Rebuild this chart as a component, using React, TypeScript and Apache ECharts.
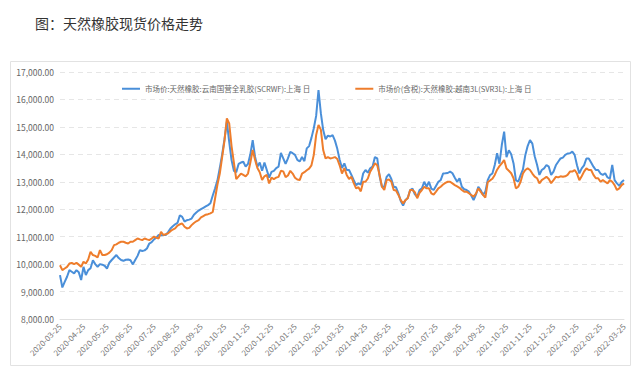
import React, { useEffect, useRef } from "react";
import * as echarts from "echarts";

const chartTitle = "图：天然橡胶现货价格走势";
const seriesNames = [
  "市场价:天然橡胶:云南国营全乳胶(SCRWF):上海 日",
  "市场价(含税):天然橡胶:越南3L(SVR3L):上海 日",
];

const monthLabels = [
  "2020-03-25", "2020-04-25", "2020-05-25", "2020-06-25", "2020-07-25",
  "2020-08-25", "2020-09-25", "2020-10-25", "2020-11-25", "2020-12-25",
  "2021-01-25", "2021-02-25", "2021-03-25", "2021-04-25", "2021-05-25",
  "2021-06-25", "2021-07-25", "2021-08-25", "2021-09-25", "2021-10-25",
  "2021-11-25", "2021-12-25", "2022-01-25", "2022-02-25", "2022-03-25",
];

const scrwf = [
  9600, 9150, 9350, 9540, 9780, 9720, 9660, 9780, 9700, 9420,
  9900, 9600, 9780, 9850, 10140, 10000, 9900, 10000, 9980, 9940,
  9840, 10050, 10150, 10240, 10330, 10220, 10150, 10120, 10160, 10170,
  10140, 9990, 10150, 10300, 10510, 10480, 10500, 10570, 10750, 10800,
  10900, 10960, 11060, 11050, 11060, 11060, 11170, 11300, 11380, 11450,
  11500, 11780, 11720, 11550, 11600, 11620, 11660, 11800, 11880, 11950,
  12000,
  12050, 12100, 12150, 12220, 12500, 12760, 13050, 13500, 14000,
  14550, 15190, 14450, 13790, 13400, 13350, 13650, 13700, 13730, 13550,
  13650, 14000, 14520, 13913, 13550, 13700, 13400, 13700, 13430, 13150,
  13360, 13400, 13500, 13550, 14050, 13850, 13650, 13850, 14090, 14040,
  13980, 13800, 13740, 13900, 13750, 14217, 14300, 14600, 14950, 15400,
  16344, 15500, 14885, 14550, 14680, 14650, 14700, 14500, 14200, 13800,
  13500,
  13670, 13430, 13430, 13250, 13060, 12880, 12940, 12900, 13300,
  13430, 13330, 13490, 13550, 13900, 13850, 13200, 12820, 12820, 13180,
  13280, 13100, 12820, 12800, 12580, 12300, 12130, 12330, 12420, 12700,
  12750, 12540, 12450, 12700, 12760, 13000, 12820, 13000, 12750, 12700,
  12850, 13000, 13060, 13300, 13307, 13320, 13370, 13310, 13150, 13000,
  13125, 12820, 12730, 12700, 12640, 12500, 12335, 12530, 12820, 12700,
  12520,
  12640, 13060, 13240, 13300, 13610, 14040, 13660, 14340, 14826,
  13900, 14150, 14000, 13670, 13060, 13000, 13240, 13450, 13970, 14300,
  14522, 14390, 13930, 13620, 13250, 13430, 13490, 13610, 13550, 13250,
  13370, 13600, 13730, 13850, 13880, 13980, 14030, 14040, 14097, 13980,
  13600, 13307, 13490, 13600, 13850, 13850, 13700, 13550, 13430, 13430,
  13300, 13250, 13310, 13160, 13120, 13611, 13060, 12940, 12850, 12990,
  13064,
];

const svr3l = [
  9960, 9780, 9840, 9900, 10020, 10045, 10000, 10045, 9980, 9900,
  10085, 10020, 10170, 10450, 10330, 10300, 10240, 10510, 10330, 10330,
  10360, 10420, 10510, 10690, 10720, 10780, 10815, 10815, 10780, 10750,
  10815, 10815, 10875, 10935, 10900, 10875, 10935, 10900, 10875, 10935,
  11000, 10960, 10935, 11180, 11060, 11090, 11120, 11200, 11260, 11300,
  11400, 11450, 11480, 11360, 11300, 11320, 11420, 11500, 11560, 11600,
  11700,
  11750, 11800, 11820, 11850, 11900, 12400, 12900, 13300, 13900,
  14500, 15310, 15130, 14300, 13700, 13100, 13200, 13300, 13250, 13200,
  13300, 13700, 14156, 13800, 13500, 13350, 13063, 13200, 13250, 12940,
  13150, 13100, 13150, 13180, 13400, 13380, 13170, 13230, 13400, 13300,
  13150, 13080, 13063, 13300, 13350, 13420, 13480, 13600, 13980, 14700,
  15068, 14900, 14156, 13850, 13900, 13850, 13870, 13900, 13830, 13600,
  13300,
  13500, 13250, 13100, 13180, 12950, 12760, 12800, 12650, 13000,
  13000, 13120, 13370, 13510, 13670, 13600, 13250, 12820, 12700, 13060,
  13080, 13000, 12700, 12680, 12520, 12330, 12213, 12330, 12400, 12700,
  12700, 12620, 12400, 12600, 12700, 12820, 12760, 12760, 12580, 12530,
  12640, 12760, 12820, 12900, 12960, 13000, 13000, 12940, 12880, 12830,
  12780, 12700, 12640, 12640, 12580, 12520, 12460, 12570, 12760, 12640,
  12520,
  12420, 12980, 13050, 13110, 13250, 13440, 13570, 13670, 13793,
  13480, 13400, 13310, 13130, 12760, 12820, 13000, 13300, 13430, 13490,
  13430, 13300, 13190, 13130, 12942, 13060, 13120, 13180, 13100, 12950,
  13060, 13180, 13160, 13200, 13180, 13200, 13250, 13370, 13370, 13430,
  13300, 13060, 13200, 13370, 13490, 13430, 13430, 13250, 13130, 13130,
  13000, 13060, 13000, 12940, 13060, 13000, 12880, 12700, 12760, 12880,
  12942,
];

const yMin = 8000;
const yMax = 17000;
const yStep = 1000;
const subSteps = 10;

function buildCategories(labels: string[]): string[] {
  const out: string[] = [];
  const day = 86400000;
  for (let k = 0; k < labels.length - 1; k++) {
    const a = Date.parse(labels[k] + "T00:00:00Z");
    const b = Date.parse(labels[k + 1] + "T00:00:00Z");
    const span = Math.round((b - a) / day);
    for (let j = 0; j < subSteps; j++) {
      const d = new Date(a + Math.round((j * span) / subSteps) * day);
      out.push(d.toISOString().slice(0, 10));
    }
  }
  out.push(labels[labels.length - 1]);
  return out;
}

const categories = buildCategories(monthLabels);

export default function App() {
  const ref = useRef<HTMLDivElement>(null);
  useEffect(() => {
    if (!ref.current) return;
    const chart = echarts.init(ref.current, null, { renderer: "svg" });
    const font = "'Noto Sans CJK SC', 'Noto Sans', sans-serif";
    chart.setOption({
      animation: false,
      backgroundColor: "#ffffff",
      textStyle: { fontFamily: font },
      title: {
        text: chartTitle,
        left: 30,
        top: 11,
        textStyle: { fontSize: 14, fontWeight: "normal", color: "#333333", fontFamily: font },
      },
      graphic: [
        {
          type: "rect",
          shape: { x: 10.5, y: 61.5, width: 620, height: 304 },
          style: { fill: "none", stroke: "#e2e2e2", lineWidth: 1 },
          z: -1,
          silent: true,
        },
      ],
      legend: {
        left: 117,
        top: 80,
        itemGap: 45,
        itemWidth: 18,
        itemHeight: 2,
        icon: "rect",
        textStyle: { fontSize: 7.5, color: "#666666", fontFamily: font },
        data: seriesNames,
      },
      grid: { left: 60, right: 16, top: 72, bottom: 65, containLabel: false },
      xAxis: {
        type: "category",
        boundaryGap: false,
        data: categories,
        axisLine: { lineStyle: { color: "#e0e0e0" } },
        axisTick: { show: false },
        axisLabel: {
          interval: subSteps - 1,
          rotate: 45,
          fontSize: 8,
          color: "#777777",
          margin: 6,
          fontFamily: font,
        },
        splitLine: { show: false },
      },
      yAxis: {
        type: "value",
        min: yMin,
        max: yMax,
        interval: yStep,
        axisLine: { show: false },
        axisTick: { show: false },
        axisLabel: {
          fontSize: 8.5,
          color: "#666666",
          margin: 6,
          fontFamily: font,
          formatter: (v: number) =>
            v.toLocaleString("en-US", { minimumFractionDigits: 2, maximumFractionDigits: 2 }),
        },
        splitLine: { lineStyle: { color: "#e6e6e6", type: [5, 4] } },
      },
      series: [
        {
          name: seriesNames[0],
          type: "line",
          data: scrwf,
          showSymbol: false,
          lineStyle: { width: 2, color: "#4a8fd9" },
          itemStyle: { color: "#4a8fd9" },
        },
        {
          name: seriesNames[1],
          type: "line",
          data: svr3l,
          showSymbol: false,
          lineStyle: { width: 2, color: "#ee7d2c" },
          itemStyle: { color: "#ee7d2c" },
        },
      ],
    });
    return () => chart.dispose();
  }, []);
  return <div ref={ref} style={{ width: 640, height: 384, position: "absolute", left: 0, top: 0 }} />;
}
